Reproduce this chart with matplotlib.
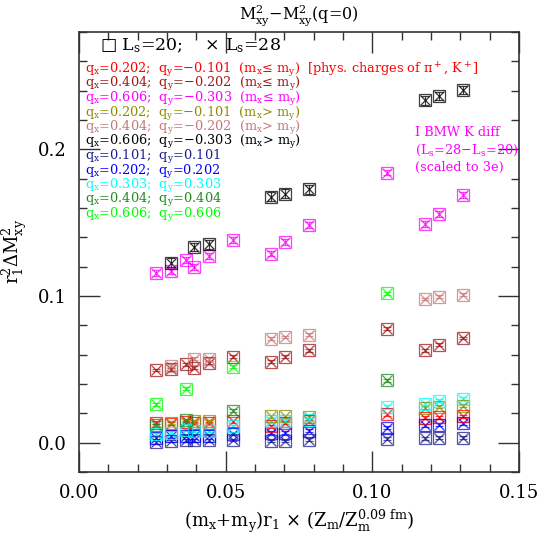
import numpy as np
import matplotlib
matplotlib.use("Agg")
import matplotlib.pyplot as plt

plt.rcParams['font.family'] = ['DejaVu Serif']
plt.rcParams['mathtext.fontset'] = 'dejavuserif'
plt.rcParams['mathtext.default'] = 'regular'

# mass columns: all, m_x = m_y, m_x > m_y
x_all = [0.0262, 0.0313, 0.0365, 0.0394, 0.0443, 0.0524, 0.0656, 0.0701,
         0.0785, 0.1049, 0.1180, 0.1229, 0.1311]
x_sym = [0.0262, 0.0365, 0.0524, 0.1049]
x_gt = [0.0313, 0.0394, 0.0443, 0.0656, 0.0701, 0.0785, 0.1180, 0.1229, 0.1311]

y_red = [0.0136, 0.0129, 0.0138, 0.0131, 0.0131, 0.0145, 0.0113, 0.0136,
         0.0145, 0.0193, 0.0170, 0.0173, 0.0181]
y_darkred = [0.0495, 0.0500, 0.0534, 0.0511, 0.0545, 0.0586, 0.0552, 0.0584,
             0.0629, 0.0777, 0.0631, 0.0666, 0.0713]
y_magenta = [0.1157, 0.1168, 0.1245, 0.1200, 0.1273, 0.1380, 0.1289, 0.1368,
             0.1482, 0.1841, 0.1490, 0.1560, 0.1690]
y_olive = [0.0136, 0.0145, 0.0145, 0.0181, 0.0181, 0.0175, 0.0239, 0.0245, 0.0250]
y_rosy = [0.0523, 0.0573, 0.0568, 0.0709, 0.0720, 0.0734, 0.0979, 0.0993, 0.1009]
y_black = [0.1227, 0.1334, 0.1352, 0.1675, 0.1698, 0.1727, 0.2334, 0.2363, 0.2404]
y_navy = [0.0004, 0.0011, 0.0016, 0.0016, 0.0016, 0.0018, 0.0011, 0.0011,
          0.0020, 0.0027, 0.0029, 0.0032, 0.0034]
y_blue = [0.0034, 0.0043, 0.0045, 0.0045, 0.0045, 0.0061, 0.0068, 0.0068,
          0.0080, 0.0102, 0.0118, 0.0123, 0.0132]
y_cyan = [0.0057, 0.0068, 0.0086, 0.0079, 0.0079, 0.0113, 0.0147, 0.0150,
          0.0155, 0.0245, 0.0266, 0.0284, 0.0300]
y_dgreen = [0.0118, 0.0152, 0.0216, 0.0425]
y_lime = [0.0261, 0.0368, 0.0516, 0.1018]

labels = [r'$q_x$=0.202;  $q_y$=−0.101  ($m_x$≤ $m_y$)  [phys. charges of $\pi^+$, $K^+$]',
          r'$q_x$=0.404;  $q_y$=−0.202  ($m_x$≤ $m_y$)',
          r'$q_x$=0.606;  $q_y$=−0.303  ($m_x$≤ $m_y$)',
          r'$q_x$=0.202;  $q_y$=−0.101  ($m_x$> $m_y$)',
          r'$q_x$=0.404;  $q_y$=−0.202  ($m_x$> $m_y$)',
          r'$q_x$=0.606;  $q_y$=−0.303  ($m_x$> $m_y$)',
          r'$q_x$=0.101;  $q_y$=0.101',
          r'$q_x$=0.202;  $q_y$=0.202',
          r'$q_x$=0.303;  $q_y$=0.303',
          r'$q_x$=0.404;  $q_y$=0.404',
          r'$q_x$=0.606;  $q_y$=0.606']
colors = ['#ff0000', '#a01818', '#ff00ff', '#8c8c00', '#c87878', '#000000',
          '#1c1c8c', '#0000ff', '#00ffff', '#1e8c1e', '#00ff00']
series = [(x_all, y_red, 0.001), (x_all, y_darkred, 0.001), (x_all, y_magenta, 0.002),
          (x_gt, y_olive, 0.001), (x_gt, y_rosy, 0.001), (x_gt, y_black, 0.003),
          (x_all, y_navy, 0.001), (x_all, y_blue, 0.001), (x_all, y_cyan, 0.001),
          (x_sym, y_dgreen, 0.001), (x_sym, y_lime, 0.001)]

fig = plt.figure(figsize=(5.4, 5.4), dpi=100)
ax = fig.add_axes([0.146, 0.126, 0.815, 0.815])

for (xs, ys, err), col in zip(series, colors):
    ax.errorbar(xs, ys, yerr=err, fmt='s', mfc='none', mec=col, ms=9, mew=0.9,
                ecolor=col, elinewidth=0.8, capsize=3, alpha=0.75)
    ax.plot(xs, ys, 'x', color=col, ms=6.5, mew=0.9, alpha=0.8)

for i, (lab, col) in enumerate(zip(labels, colors)):
    fig.text(85 / 540, 1 - (70 + 14.5 * i) / 540, lab, color=col,
             fontsize=9.3, va='center', ha='left')

fig.text(100 / 540, 1 - 46 / 540, r'□ $L_s$=20;    × $L_s$=28', fontsize=12.5,
         va='center', ha='left')
fig.text(415 / 540, 1 - 150 / 540,
         'I BMW K diff\n' + r'($L_s$=28−$L_s$=20)' + '\n(scaled to 3e)',
         color='#ff00ff', fontsize=9.3, va='center', ha='left', linespacing=1.3)

ax.set_xlim(0, 0.15)
ax.set_ylim(-0.02, 0.28)
ax.set_xticks([0.0, 0.05, 0.10, 0.15])
ax.set_xticklabels(['0.00', '0.05', '0.10', '0.15'])
ax.set_yticks([0.0, 0.1, 0.2])
ax.set_yticklabels(['0.0', '0.1', '0.2'])
ax.set_xticks(np.arange(0, 0.151, 0.01), minor=True)
ax.set_yticks(np.arange(-0.02, 0.281, 0.02), minor=True)
ax.tick_params(which='both', direction='in', top=True, right=True,
               labelsize=13, pad=9, color='#333333')
ax.tick_params(which='major', length=15, width=1.0)
ax.tick_params(which='minor', length=5.5, width=1.0)
for s in ax.spines.values():
    s.set_linewidth(1.2)
    s.set_color('#333333')

ax.set_title(r'$M_{xy}^2$−$M_{xy}^2$(q=0)', fontsize=11.5, pad=9)
ax.set_xlabel(r'($m_x$+$m_y$)$r_1$ × ($Z_m$/$Z_m^{0.09\ fm}$)', fontsize=13)
ax.set_ylabel(r'$r_1^2\Delta M_{xy}^2$', fontsize=13, labelpad=6)

plt.savefig("out.png", dpi=100)
